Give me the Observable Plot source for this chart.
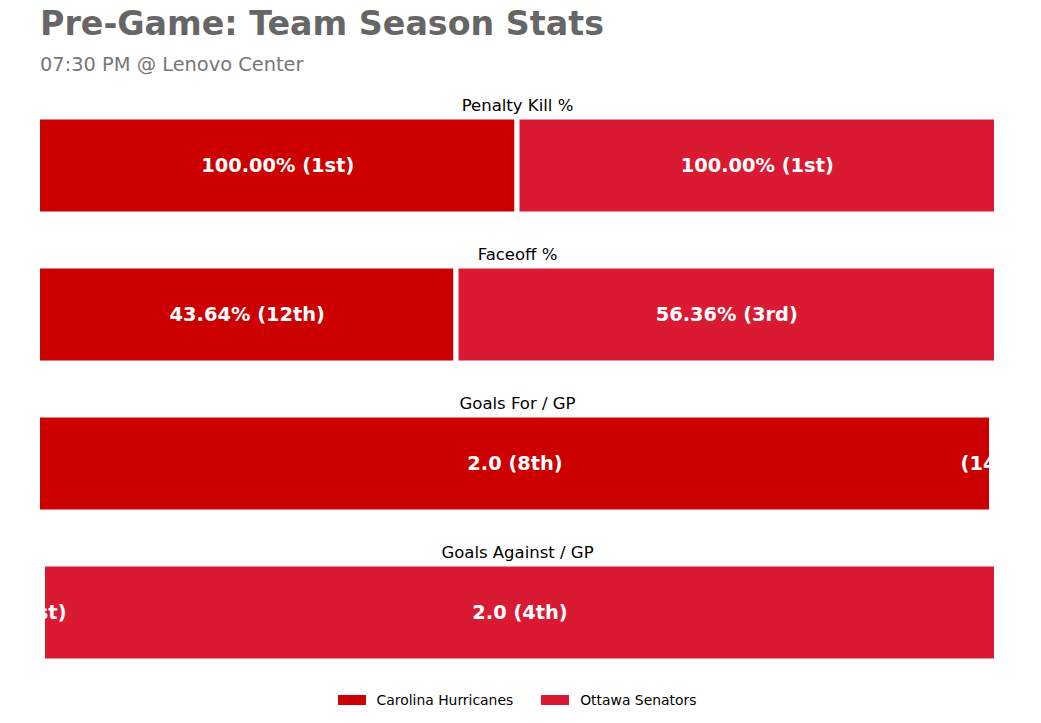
<!DOCTYPE html>
<html>
<head>
<meta charset="utf-8">
<script src="https://cdn.jsdelivr.net/npm/d3@7"></script>
<script src="https://cdn.jsdelivr.net/npm/@observablehq/plot@0.6"></script>
<style>
  html, body { margin: 0; padding: 0; background: #fff; }
  body { width: 1041px; height: 723px; position: relative; overflow: hidden; font-family: "DejaVu Sans", sans-serif; }
  #title { position: absolute; left: 40px; top: 7px; font-size: 33.3px; line-height: 1; font-weight: bold; color: #666666; white-space: nowrap; }
  #subtitle { position: absolute; left: 40px; top: 55px; font-size: 19.4px; line-height: 1; color: #777777; white-space: nowrap; }
  #chart { position: absolute; left: 0; top: 85px; }
  #legend { position: absolute; left: 40px; width: 954px; top: 690px; height: 20px; display: flex; justify-content: center; align-items: center; font-size: 13.9px; color: #000; }
  .item { display: flex; align-items: center; margin: 0 14px; }
  .sw { width: 28px; height: 9.5px; margin-right: 11px; }
</style>
</head>
<body>
<div id="title">Pre-Game: Team Season Stats</div>
<div id="subtitle">07:30 PM @ Lenovo Center</div>
<div id="chart"></div>
<div id="legend"></div>
<script>
const teams = ["Carolina Hurricanes", "Ottawa Senators"];
const teamColors = ["#CC0000", "#DA1A32"];
const stats = ["Penalty Kill %", "Faceoff %", "Goals For / GP", "Goals Against / GP"];
const statKinds = ["pct", "pct", "perGame", "perGame"];
const carolinaValues = [100.0, 43.64, 2.0, 0.0];
const ottawaValues = [100.0, 56.36, 0.0, 2.0];
const carolinaRanks = ["1st", "12th", "8th", "1st"];
const ottawaRanks = ["1st", "3rd", "14th", "4th"];

// smallest drawn share of a segment (a zero value still shows as a thin sliver)
const minShare = 0.0052;

function label(v, kind, rank) {
  if (!v) return `(${rank})`;
  return (kind === "pct" ? v.toFixed(2) + "%" : v.toFixed(1)) + ` (${rank})`;
}

const rows = [];
stats.forEach((s, i) => {
  const a = carolinaValues[i], b = ottawaValues[i];
  const total = a + b;
  let share = total > 0 ? a / total : 0.5;
  share = Math.min(1 - minShare, Math.max(minShare, share));
  rows.push({stat: s, team: teams[0], x1: 0, x2: share, label: label(a, statKinds[i], carolinaRanks[i])});
  rows.push({stat: s, team: teams[1], x1: share, x2: 1, label: label(b, statKinds[i], ottawaRanks[i])});
});

const chart = Plot.plot({
  width: 1041,
  height: 600,
  marginLeft: 37.5,
  marginRight: 44.5,
  marginTop: 0,
  marginBottom: 0,
  style: {fontFamily: "DejaVu Sans", background: "white", overflow: "visible"},
  x: {domain: [0, 1], axis: null},
  y: {domain: stats, range: [31.5, 575.5], paddingInner: 0.349, paddingOuter: 0, axis: null},
  color: {domain: teams, range: teamColors},
  marks: [
    Plot.barX(rows, {x1: "x1", x2: "x2", y: "stat", fill: "team", stroke: "white", strokeWidth: 5}),
    Plot.text(rows, {x: d => (d.x1 + d.x2) / 2, y: "stat", text: "label", fill: "white", fontWeight: "bold", fontSize: 19.4}),
    Plot.text(stats, {y: d => d, text: d => d, dy: -60, fontSize: 16.5, fill: "black"})
  ]
});
document.getElementById("chart").appendChild(chart);

const legend = document.getElementById("legend");
teams.forEach((t, i) => {
  const item = document.createElement("div");
  item.className = "item";
  const sw = document.createElement("div");
  sw.className = "sw";
  sw.style.background = teamColors[i];
  const lab = document.createElement("span");
  lab.textContent = t;
  item.appendChild(sw);
  item.appendChild(lab);
  legend.appendChild(item);
});
</script>
</body>
</html>
